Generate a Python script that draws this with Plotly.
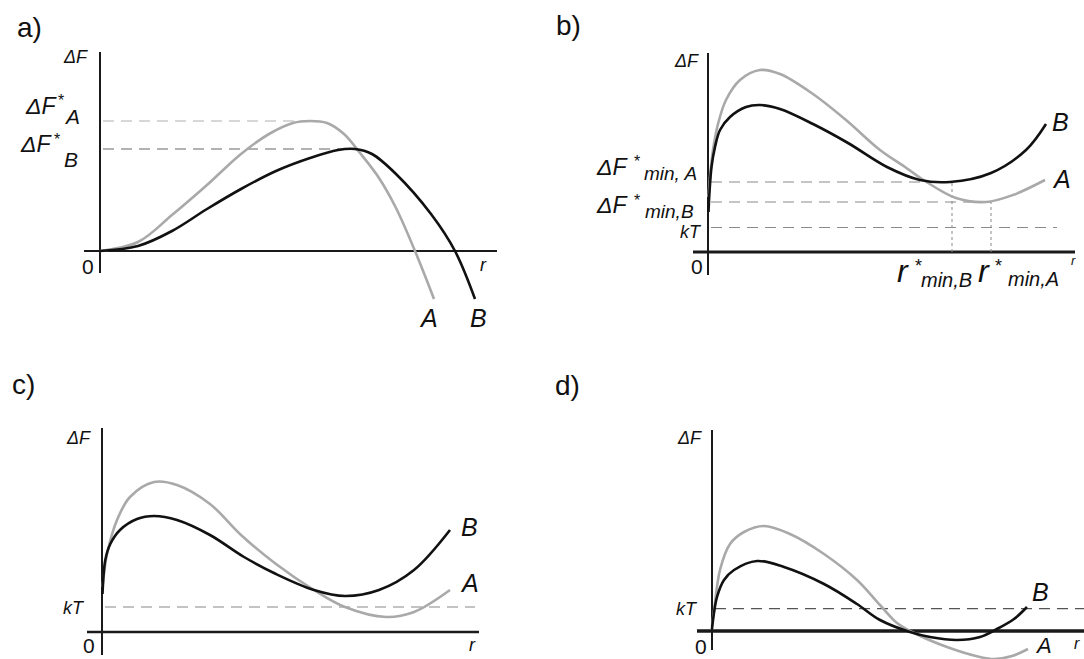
import plotly.graph_objects as go

W, H = 1084, 659

# ---------------- data (ΔF in arbitrary units versus r) ----------------
# panel a
a_r_A = [0, 38, 72, 107, 141, 169, 193, 210, 227, 244, 260, 279, 296, 315, 334]
a_F_A = [0, 9, 36, 66, 97, 117, 128, 130, 128, 117, 98, 73, 43, 0, -48]
a_r_B = [0, 38, 72, 107, 141, 176, 210, 238, 255, 272, 296, 331, 355, 375]
a_F_B = [0, 5, 20, 42, 62, 80, 93, 101, 102, 97, 77, 37, 0, -48]
a_F_star = [130, 102]          # ΔF*_A, ΔF*_B
a_r_star = [210, 250]

# panel b
b_r_A = [0.5, 2, 5, 10, 18, 32, 52, 72, 105, 138, 172, 197, 214, 248, 278, 305, 337]
b_F_A = [55, 75, 102, 128, 152, 172, 182, 178, 158, 132, 102, 85, 73, 54, 50, 57, 72]
b_r_B = [0.5, 1.5, 3.5, 7, 12, 22, 38, 52, 72, 105, 140, 179, 212, 242, 283, 318, 338]
b_F_B = [40, 60, 85, 105, 122, 135, 145, 147, 143, 128, 109, 85, 72, 70, 79, 102, 128]
b_F_min = [70, 50]             # ΔF*_min,A , ΔF*_min,B
b_r_min = [244, 283]           # r*_min,B , r*_min,A
b_kT = 24.5

# panel c
c_r_A = [0.5, 2, 5, 15, 28, 52, 75, 108, 139, 174, 212, 243, 284, 312, 348]
c_F_A = [45, 58, 78, 112, 135, 150, 147, 128, 97, 68, 42, 25, 15, 20, 42]
c_r_B = [0.5, 3.3, 8.3, 18, 35, 52, 75, 108, 142, 174, 212, 243, 277, 312, 348]
c_F_B = [38, 72, 88, 102, 113, 116, 112, 97, 75, 58, 42, 36, 42, 62, 102]
c_kT = 25

# panel d
d_r_A = [0, 2, 8, 18, 32, 52, 78, 112, 145, 168, 185, 200, 235, 268, 282, 300, 316]
d_F_A = [5, 20, 61, 87, 99, 105, 97, 77, 51, 26, 8, -1, -16, -26, -28, -25, -18]
d_r_B = [0, 1, 5, 12, 22, 45, 72, 112, 145, 168, 198, 218, 245, 268, 285, 302, 315]
d_F_B = [2, 11, 34, 51, 61, 70, 64, 47, 27, 11, -1, -6, -9, -6, 2, 12, 24]
d_kT = 22.4

# ---------------- layout helpers ----------------
GRAY = "#a9a9a9"
BLACK = "#111111"
AXC = "#1a1a1a"
FONT = "Liberation Sans, Arial, sans-serif"

# panel boxes (pixels) and origin of the drawn axes (pixels)
panels = {
    "a": dict(box=(0, 542, 0, 330), origin=(100, 251)),
    "b": dict(box=(542, 1084, 0, 330), origin=(708, 252)),
    "c": dict(box=(0, 542, 330, 659), origin=(102, 632)),
    "d": dict(box=(542, 1084, 330, 659), origin=(712, 631)),
}

fig = go.Figure()
layout_axes = {}
for i, (key, p) in enumerate(panels.items(), start=1):
    x0, x1, y0, y1 = p["box"]
    ox, oy = p["origin"]
    sx = "" if i == 1 else str(i)
    layout_axes["xaxis" + sx] = dict(domain=[x0 / W, x1 / W], range=[x0 - ox, x1 - ox],
                                     visible=False, fixedrange=True)
    layout_axes["yaxis" + sx] = dict(domain=[1 - y1 / H, 1 - y0 / H], range=[oy - y1, oy - y0],
                                     visible=False, fixedrange=True)
    p["xref"] = "x" + sx
    p["yref"] = "y" + sx


def curve(key, r, F, color, width=2.6):
    p = panels[key]
    fig.add_trace(go.Scatter(x=r, y=F, mode="lines",
                             line=dict(color=color, width=width, shape="spline", smoothing=1.0),
                             xaxis=p["xref"], yaxis=p["yref"], hoverinfo="skip", showlegend=False))


def seg(key, x0, y0, x1, y1, color, width, dash=None):
    p = panels[key]
    fig.add_shape(type="line", x0=x0, y0=y0, x1=x1, y1=y1, xref=p["xref"], yref=p["yref"],
                  line=dict(color=color, width=width, dash=dash), layer="below")


def axes(key, xl, xr, yb, yt, wx, wy):
    seg(key, xl, 0, xr, 0, AXC, wx)
    seg(key, 0, yb, 0, yt, AXC, wy)


def label(text, px, py, size, italic=True, color="#111111", xanchor="center"):
    t = "<i>" + text + "</i>" if italic else text
    fig.add_annotation(text=t, x=px / W, y=1 - py / H, xref="paper", yref="paper",
                       showarrow=False, xanchor=xanchor, yanchor="middle",
                       font=dict(family=FONT, size=size, color=color))


LONG = "11px,7px"
SHORT = "3px,3px"

# ---------------- panel a ----------------
axes("a", -16, 397, -22, 199, 2, 2)
seg("a", 3, a_F_star[0], a_r_star[0], a_F_star[0], "#b0b0b0", 1.2, LONG)
seg("a", 3, a_F_star[1], a_r_star[1], a_F_star[1], "#666666", 1.2, LONG)
curve("a", a_r_A, a_F_A, GRAY)
curve("a", a_r_B, a_F_B, BLACK)

# ---------------- panel b ----------------
axes("b", -15, 367, -23, 199, 3, 2)
seg("b", 3, b_F_min[0], b_r_min[0], b_F_min[0], "#8a8a8a", 1.1, LONG)
seg("b", 3, b_F_min[1], b_r_min[1], b_F_min[1], "#8a8a8a", 1.1, LONG)
seg("b", b_r_min[0], 0, b_r_min[0], b_F_min[0], "#8a8a8a", 1, SHORT)
seg("b", b_r_min[1], 0, b_r_min[1], b_F_min[1], "#8a8a8a", 1, SHORT)
seg("b", 3, b_kT, 349, b_kT, "#8a8a8a", 1.1, LONG)
curve("b", b_r_A, b_F_A, GRAY)
curve("b", b_r_B, b_F_B, BLACK)

# ---------------- panel c ----------------
axes("c", -15, 377, -23, 204, 2.5, 2)
seg("c", 3, c_kT, 373, c_kT, "#b0b0b0", 1.4, LONG)
curve("c", c_r_A, c_F_A, GRAY)
curve("c", c_r_B, c_F_B, BLACK)

# ---------------- panel d ----------------
axes("d", -15, 380, -19, 201, 3.5, 2)
seg("d", 3, d_kT, 380, d_kT, "#555555", 1.1, LONG)
curve("d", d_r_A, d_F_A, GRAY)
curve("d", d_r_B, d_F_B, BLACK)

# ---------------- text ----------------
# panel letters
label("a)", 29, 28, 28, italic=False)
label("b)", 568, 26, 28, italic=False)
label("c)", 23, 384, 28, italic=False)
label("d)", 567, 385, 28, italic=False)

# panel a
label("ΔF", 75, 57, 18)
label("ΔF", 41, 106, 23)
label("*", 61, 100, 16, italic=False)
label("A", 72, 116, 21)
label("ΔF", 36, 144, 23)
label("*", 57, 139, 16, italic=False)
label("B", 71, 160, 21)
label("0", 88, 266, 21, italic=False)
label("r", 483, 265, 18)
label("A", 428, 318, 25)
label("B", 478, 318, 25)

# panel b
label("ΔF", 686, 61, 18)
label("ΔF", 612, 167, 23)
label("*", 637, 162, 16, italic=False)
label("min, A", 670, 174, 19)
label("ΔF", 612, 205, 23)
label("*", 637, 200, 16, italic=False)
label("min,B", 669, 212, 19)
label("kT", 691, 232, 18)
label("0", 697, 266, 21, italic=False)
label("r", 1073, 260, 13)
label("B", 1060, 122, 25)
label("A", 1061, 179, 25)
label("r", 903, 271, 32)
label("*", 918, 266, 18, italic=False)
label("min,B", 946, 280, 20)
label("r", 984, 271, 32)
label("*", 998, 266, 18, italic=False)
label("min,A", 1033, 279, 20)

# panel c
label("ΔF", 78, 438, 18)
label("kT", 74, 608, 18)
label("0", 89, 645, 21, italic=False)
label("r", 472, 645, 18)
label("B", 469, 527, 25)
label("A", 469, 583, 25)

# panel d
label("ΔF", 689, 438, 18)
label("kT", 687, 609, 18)
label("0", 701, 646, 21, italic=False)
label("r", 1077, 643, 16)
label("B", 1040, 592, 25)
label("A", 1043, 645, 22)

fig.update_layout(width=W, height=H, margin=dict(l=0, r=0, t=0, b=0),
                  paper_bgcolor="white", plot_bgcolor="white", showlegend=False,
                  **layout_axes)

fig.write_html("out.html", config={"displayModeBar": False, "staticPlot": True},
               post_script="document.body.style.margin='0';")
